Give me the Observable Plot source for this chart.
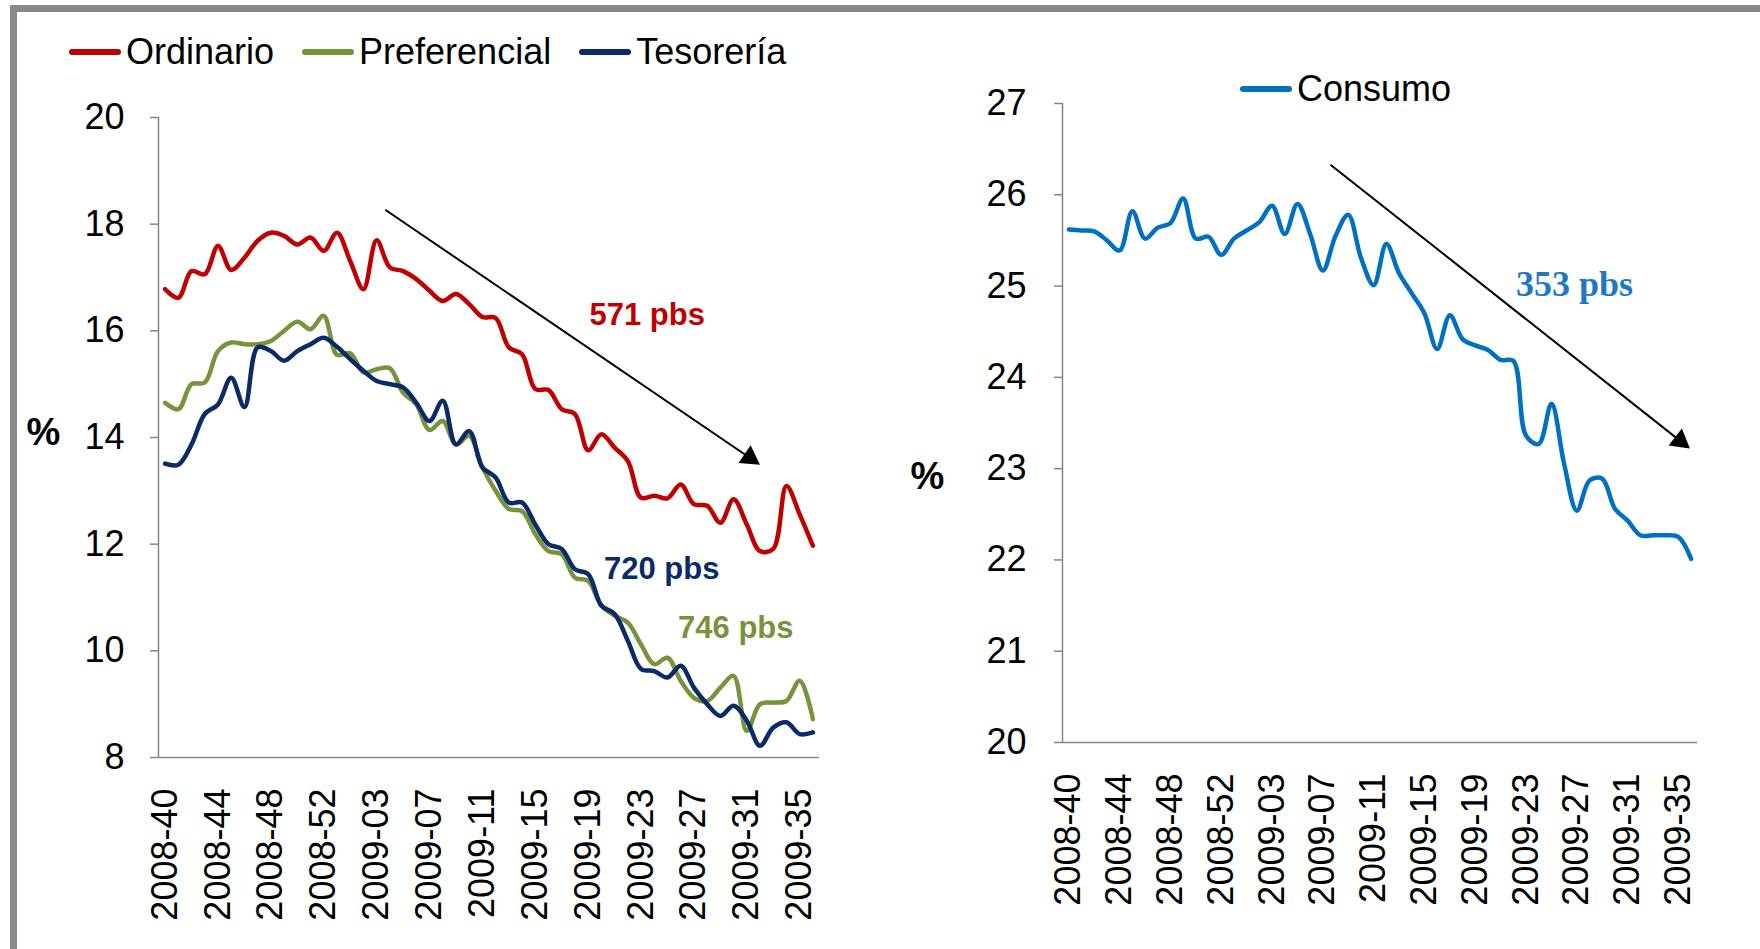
<!DOCTYPE html>
<html><head><meta charset="utf-8">
<script src="https://cdn.jsdelivr.net/npm/d3@7"></script>
<script src="https://cdn.jsdelivr.net/npm/@observablehq/plot@0.6"></script>
<style>
html,body{margin:0;padding:0;background:#fff;overflow:hidden;}
#page{position:relative;width:1760px;height:949px;overflow:hidden;background:#fff;font-family:"Liberation Sans",Arial,sans-serif;}
#border{position:absolute;left:10px;top:5px;width:1800px;height:1000px;border-top:7px solid #888;border-left:7px solid #888;}
.chart{position:absolute;top:0;}
.legend{position:absolute;display:flex;align-items:center;font-size:36px;line-height:40px;color:#000;}
.item{display:flex;align-items:center;margin-right:28px;}
.sw{width:52px;height:6px;border-radius:3px;margin-right:5px;}
</style></head><body>
<div id="page"><div id="border"></div>
<div id="c1" class="chart" style="left:0px"></div>
<div id="c2" class="chart" style="left:880px"></div>
<div id="lg1" class="legend" style="left:69px;top:32px"></div>
<div id="lg2" class="legend" style="left:1240px;top:69px"></div>
</div>
<script>
// ---- data ----
const weeks = [
  "2008-40","2008-41","2008-42","2008-43","2008-44","2008-45","2008-46","2008-47","2008-48","2008-49",
  "2008-50","2008-51","2008-52","2008-53","2009-01","2009-02","2009-03","2009-04","2009-05","2009-06",
  "2009-07","2009-08","2009-09","2009-10","2009-11","2009-12","2009-13","2009-14","2009-15","2009-16",
  "2009-17","2009-18","2009-19","2009-20","2009-21","2009-22","2009-23","2009-24","2009-25","2009-26",
  "2009-27","2009-28","2009-29","2009-30","2009-31","2009-32","2009-33","2009-34","2009-35","2009-36"];
const ordinario = [16.78,16.62,17.12,17.06,17.59,17.14,17.37,17.69,17.84,17.78,
  17.62,17.75,17.50,17.84,17.31,16.78,17.70,17.19,17.12,16.97,
  16.75,16.56,16.69,16.50,16.26,16.24,15.69,15.56,14.91,14.89,
  14.53,14.44,13.76,14.06,13.81,13.56,12.87,12.91,12.86,13.12,
  12.75,12.72,12.40,12.84,12.37,11.87,11.91,13.09,12.56,11.97];
const preferencial = [14.65,14.53,15.00,15.03,15.62,15.78,15.75,15.75,15.81,16.00,
  16.17,16.03,16.28,15.55,15.58,15.22,15.28,15.30,14.84,14.62,
  14.14,14.31,13.87,14.03,13.44,13.00,12.66,12.62,12.19,11.87,
  11.81,11.37,11.31,10.85,10.66,10.53,10.12,9.75,9.87,9.44,
  9.12,9.06,9.31,9.53,8.50,9.00,9.03,9.06,9.44,8.72];
const tesoreria = [13.51,13.49,13.87,14.44,14.62,15.12,14.57,15.69,15.62,15.44,
  15.62,15.75,15.87,15.70,15.47,15.25,15.06,15.00,14.94,14.65,
  14.31,14.69,13.87,14.12,13.44,13.25,12.78,12.78,12.37,12.00,
  11.91,11.53,11.44,10.85,10.69,10.19,9.66,9.62,9.50,9.72,
  9.31,9.00,8.78,8.97,8.69,8.22,8.56,8.66,8.44,8.47];
const consumo = [25.62,25.61,25.60,25.50,25.39,25.82,25.52,25.64,25.69,25.96,
  25.52,25.54,25.34,25.52,25.61,25.70,25.88,25.57,25.90,25.57,
  25.17,25.55,25.78,25.31,25.01,25.46,25.14,24.92,24.70,24.31,
  24.68,24.42,24.35,24.30,24.19,24.18,23.36,23.27,23.71,23.05,
  22.54,22.87,22.89,22.56,22.43,22.27,22.27,22.27,22.25,22.01];
const seriesLeft = ["Ordinario","Preferencial","Tesorería"];
const seriesRight = ["Consumo"];
const yTicksLeft = [8,10,12,14,16,18,20];
const yTicksRight = [20,21,22,23,24,25,26,27];
const labelsLeft = [
  {x: 32.1, y: 16.29, text: "571 pbs", color: "#C00000"},
  {x: 33.2, y: 11.54, text: "720 pbs", color: "#0B2A68"},
  {x: 38.8, y: 10.42, text: "746 pbs", color: "#77933C"}];
const labelsRight = [{x: 35.2, y: 25.02, text: "353 pbs", color: "#1E78C8"}];
const arrowLeft = {x1: 16.65, y1: 18.27, x2: 45.0, y2: 13.49};
const arrowRight = {x1: 20.6, y1: 26.33, x2: 48.9, y2: 23.22};

// ---- styles ----
const colorsLeft = ["#C00000", "#77933C", "#0B2A68"];
const colorsRight = ["#0070C0"];
const axisGray = "#868686";
const FONT = "Liberation Sans, Arial, sans-serif";
const xTickIdx = d3.range(0, weeks.length, 4);
const idx = (d, i) => i;

function arrowMarks(a, pxPerX, pxPerY) {
  const dxp = (a.x2 - a.x1) * pxPerX, dyp = (a.y1 - a.y2) * pxPerY;
  const ang = Math.atan2(dyp, dxp);
  const r = 8, tip = 2 * Math.sqrt(Math.PI * r * r / (3 * Math.sqrt(3)));
  const cx = a.x2 - tip * Math.cos(ang) / pxPerX;
  const cy = a.y2 + tip * Math.sin(ang) / pxPerY;
  return [
    Plot.link([a], {x1: "x1", y1: "y1", x2: () => cx, y2: () => cy, stroke: "#000", strokeWidth: 2}),
    Plot.dot([{x: cx, y: cy}], {x: "x", y: "y", symbol: "triangle", r, fill: "#000", stroke: "none", rotate: ang * 180 / Math.PI + 90})
  ];
}

function chart(o) {
  const pw = o.width - o.ml - o.mr, ph = o.height - o.mt - o.mb;
  const pxPerX = pw / weeks.length, pxPerY = ph / (o.ydom[1] - o.ydom[0]);
  return Plot.plot({
    width: o.width, height: o.height,
    marginLeft: o.ml, marginRight: o.mr, marginTop: o.mt, marginBottom: o.mb,
    style: {fontFamily: FONT, background: "transparent", overflow: "visible"},
    x: {domain: [-0.5, weeks.length - 0.5], axis: null},
    y: {domain: o.ydom, axis: null},
    marks: [
      Plot.axisY({ticks: o.yticks, tickFormat: d => String(d), tickSize: 8, tickPadding: o.ypad, fontSize: 36, stroke: axisGray, fill: "#000", strokeWidth: 1.5}),
      Plot.axisX({ticks: xTickIdx, tickFormat: i => weeks[i], tickRotate: -90, tickSize: 0, tickPadding: 31, fontSize: 36, fill: "#000"}),
      Plot.ruleX([-0.5], {stroke: axisGray, strokeWidth: 1.5}),
      Plot.ruleY([o.ydom[0]], {stroke: axisGray, strokeWidth: 1.5}),
      ...o.series.map((s, k) => Plot.line(s, {x: idx, y: d => d, stroke: o.colors[k], strokeWidth: 4.5, curve: "catmull-rom"})),
      ...arrowMarks(o.arrow, pxPerX, pxPerY),
      Plot.text(o.labels, {x: "x", y: "y", text: "text", fill: "color", textAnchor: "start", fontSize: o.lfs, fontWeight: "bold", fontFamily: o.lfont}),
      Plot.text(["%"], {frameAnchor: "left", textAnchor: "middle", dx: o.pdx, dy: o.pdy, fontSize: 38, fontWeight: "bold", fill: "#000"})
    ]
  });
}

document.getElementById("c1").append(chart({
  width: 860, height: 949, ml: 158, mr: 41, mt: 117, mb: 192,
  ydom: [8, 20], yticks: yTicksLeft, ypad: 26,
  series: [ordinario, preferencial, tesoreria], colors: colorsLeft,
  arrow: arrowLeft, labels: labelsLeft, lfs: 31, lfont: FONT, pdx: -115, pdy: -5
}));
document.getElementById("c2").append(chart({
  width: 880, height: 949, ml: 182, mr: 63, mt: 103, mb: 207,
  ydom: [20, 27], yticks: yTicksRight, ypad: 28,
  series: [consumo], colors: colorsRight,
  arrow: arrowRight, labels: labelsRight, lfs: 36, lfont: "Liberation Serif, DejaVu Serif, serif", pdx: -135, pdy: 54
}));

function legend(el, names, colors) {
  names.forEach((n, k) => {
    const it = document.createElement("div"); it.className = "item";
    const sw = document.createElement("div"); sw.className = "sw"; sw.style.background = colors[k];
    const t = document.createElement("span"); t.textContent = n;
    it.append(sw, t); el.append(it);
  });
}
legend(document.getElementById("lg1"), seriesLeft, colorsLeft);
legend(document.getElementById("lg2"), seriesRight, colorsRight);
</script>
</body></html>
